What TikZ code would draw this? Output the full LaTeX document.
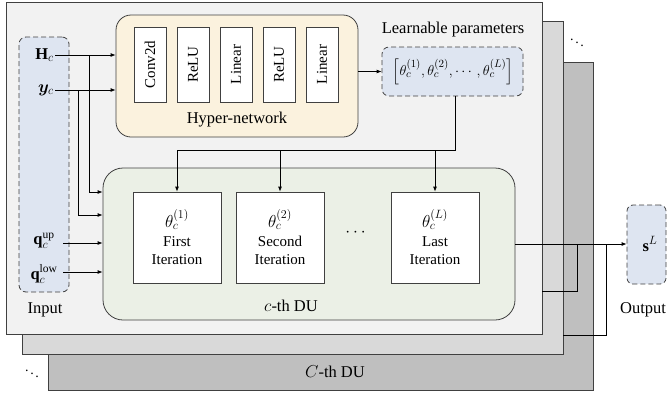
\documentclass[tikz,border=0pt]{standalone}
\usepackage{amsmath,bm}
\usepackage{fontspec}
\setmainfont{Liberation Serif}
\usetikzlibrary{arrows.meta}
\definecolor{pone}{HTML}{F2F2F2}
\definecolor{ptwo}{HTML}{D9D9D9}
\definecolor{pthree}{HTML}{BFBFBF}
\definecolor{inblue}{HTML}{DEE5F1}
\definecolor{hyperc}{HTML}{FBF2DE}
\definecolor{duc}{HTML}{EBF0E6}
\definecolor{edge}{HTML}{404040}
\tikzset{
  panel/.style={draw=edge, line width=0.8pt, minimum width=#1, inner sep=0pt},
  dashbox/.style={draw=edge, dash pattern=on 5pt off 3pt, line width=0.8pt, fill=inblue, rounded corners=7pt, inner sep=0pt},
  layerbox/.style={draw=edge, line width=0.8pt, fill=white, minimum width=32pt, minimum height=75pt, inner sep=0pt},
  iterbox/.style={draw=edge, line width=0.8pt, fill=white, minimum width=88pt, minimum height=91pt, inner sep=0pt, align=center, font=\fontsize{15}{18.5}\selectfont},
  lbl/.style={font=\fontsize{16.5}{18}\selectfont, inner sep=1pt},
  arr/.style={-{Latex[length=5pt,width=4pt]}, line width=0.8pt},
  wire/.style={line width=0.8pt},
}
\begin{document}
\begin{tikzpicture}[x=1pt,y=-1pt]
\useasboundingbox (0,0) rectangle (668,397);
% stacked panels
\node[panel=545pt, minimum height=328pt, fill=pthree] (p3) at (320.5,226) {};
\node[panel=541pt, minimum height=333pt, fill=ptwo] (p2) at (292.5,187.5) {};
\node[panel=536pt, minimum height=332pt, fill=pone] (p1) at (274,168) {};
\node[lbl] (cth) at (335,372) {$C$-th DU};
\node[font=\fontsize{14}{14}\selectfont] (dd1) at (577,40) {$\ddots$};
\node[font=\fontsize{14}{14}\selectfont] (dd2) at (32,371) {$\ddots$};
% input
\node[dashbox, minimum width=50pt, minimum height=255pt] (inp) at (44,164.5) {};
\node[lbl] (inlbl) at (45,310) {Input};
\node[lbl, anchor=east] (hc) at (55,55) {$\mathbf{H}_c$};
\node[lbl, anchor=east] (yc) at (55,90) {$\bm{y}_c$};
\node[lbl, inner sep=0pt] (qup) at (44,241) {$\mathbf{q}_c^{\mathrm{up}}$};
\node[lbl, inner sep=0pt] (qlow) at (44,274) {$\mathbf{q}_c^{\mathrm{low}}$};
% hyper-network
\node[draw=edge, line width=0.8pt, fill=hyperc, rounded corners=15pt, minimum width=242pt, minimum height=122pt, inner sep=0pt] (hyper) at (237,76) {};
\node[layerbox] (l1) at (150,64.5) {};
\node[layerbox] (l2) at (193,64.5) {};
\node[layerbox] (l3) at (236,64.5) {};
\node[layerbox] (l4) at (279,64.5) {};
\node[layerbox] (l5) at (322,64.5) {};
\foreach \n/\t in {l1/Conv2d,l2/ReLU,l3/Linear,l4/ReLU,l5/Linear}
  \node[rotate=90, font=\fontsize{15}{15}\selectfont] at (\n) {\t};
\node[lbl] (hlbl) at (237,120) {Hyper-network};
% learnable parameters
\node[lbl] (lplbl) at (453,30) {Learnable parameters};
\node[dashbox, minimum width=141pt, minimum height=49pt] (learn) at (452.5,71.5) {};
\node[lbl, font=\fontsize{15.5}{17}\selectfont] (theta) at (453,72) {$\left[\theta_c^{(1)},\theta_c^{(2)},\cdots,\theta_c^{(L)}\right]$};
% DU
\node[draw=edge, line width=0.8pt, fill=duc, rounded corners=20pt, minimum width=412pt, minimum height=152pt, inner sep=0pt] (du) at (309,244) {};
\node[lbl] (dulbl) at (291,306) {$c$-th DU};
\node[iterbox] (it1) at (177,237.5) {{\fontsize{17}{18}\selectfont$\theta_c^{(1)}$}\\First\\Iteration};
\node[iterbox] (it2) at (280,237.5) {{\fontsize{17}{18}\selectfont$\theta_c^{(2)}$}\\Second\\Iteration};
\node[iterbox] (it3) at (435,237.5) {{\fontsize{17}{18}\selectfont$\theta_c^{(L)}$}\\Last\\Iteration};
\node[lbl] (dots) at (357,233) {$\cdots$};
% output
\node[dashbox, minimum width=39pt, minimum height=79pt, rounded corners=6pt] (out) at (646.5,244.5) {};
\node[lbl] (s) at (650,244) {$\mathbf{s}^L$};
\node[lbl] (outlbl) at (643,310) {Output};
% coordinates
\coordinate (bus) at (455,150);
\coordinate (hbr) at (89,192);
\coordinate (ybr) at (78,215);
\coordinate (b1) at (577,291);
\coordinate (b2) at (606,335);
% connectors
\draw[arr] (hc.east) -- (hc.east -| hyper.west);
\draw[arr] (yc.east) -- (yc.east -| hyper.west);
\draw[arr] (hc.east -| hbr) -- (hbr) -- (hbr -| du.west);
\draw[arr] (yc.east -| ybr) -- (ybr) -- (ybr -| du.west);
\draw[arr] (63,243) -- (63,243 -| du.west);
\draw[arr] (63,272) -- (63,272 -| du.west);
\draw[arr] (hyper.east |- learn.west) -- (learn.west);
\draw[wire] (learn.south -| bus) -- (bus) -- (bus -| it1.north);
\draw[arr] (bus -| it1.north) -- (it1.north);
\draw[arr] (bus -| it2.north) -- (it2.north);
\draw[arr] (bus -| it3.north) -- (it3.north);
\draw[arr] (du.east) -- (du.east -| out.west);
\draw[wire] (b1 -| p1.east) -- (b1) -- (b1 |- du.east);
\draw[wire] (b2 -| p2.east) -- (b2) -- (b2 |- du.east);
\end{tikzpicture}
\end{document}
